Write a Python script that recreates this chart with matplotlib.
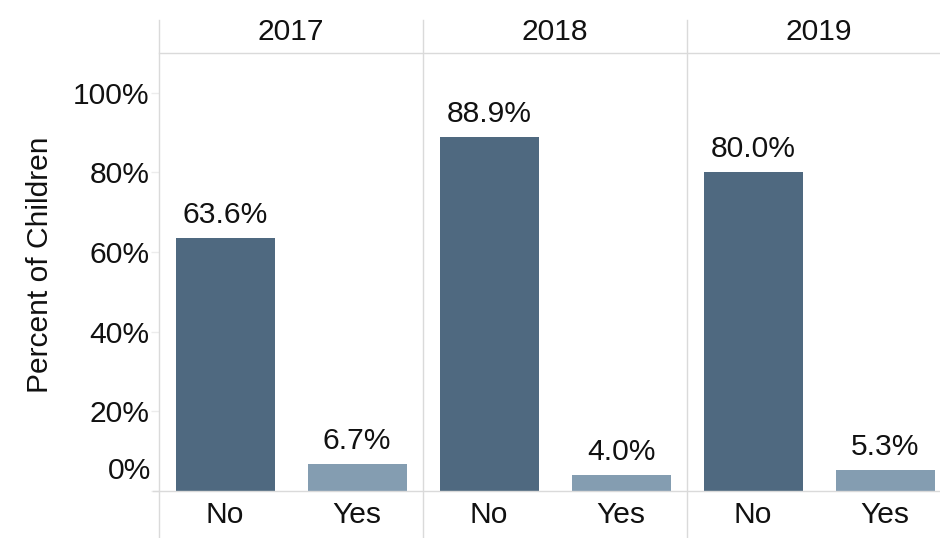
import matplotlib
matplotlib.use("Agg")
import matplotlib.pyplot as plt
from matplotlib.lines import Line2D

plt.rcParams['font.family'] = ['Liberation Sans', 'DejaVu Sans']

# ===============================
# Data
# ===============================

years = ["2017", "2018", "2019"]
answers = ["No", "Yes"]
pct_no = [63.6, 88.9, 80.0]
pct_yes = [6.7, 4.0, 5.3]
y_ticks = [0, 20, 40, 60, 80, 100]

# ===============================
# Style
# ===============================

W, H = 940, 538
COLOR_NO = "#4f6980"
COLOR_YES = "#849db1"
LINE = "#dadada"
TEXT = "#111111"
FS = 21.6

panel_left = 159
panel_w = 264
plot_top = 53
plot_bottom = 491


def fx(px):
    return px / W


def fy(py):
    return 1 - py / H


fig = plt.figure(figsize=(W / 100, H / 100), dpi=100)

for i, year in enumerate(years):
    x0 = panel_left + i * panel_w
    ax = fig.add_axes([fx(x0), fy(plot_bottom), fx(panel_w),
                       fy(plot_top) - fy(plot_bottom)])
    vals = [pct_no[i], pct_yes[i]]
    bars = ax.bar(range(len(answers)), vals, width=0.75,
                  color=[COLOR_NO, COLOR_YES])
    for b, v in zip(bars, vals):
        ax.annotate(f"{v:.1f}%", xy=(b.get_x() + b.get_width() / 2, v),
                    xytext=(0, 9), textcoords="offset pixels",
                    ha="center", va="bottom", fontsize=FS, color=TEXT)

    ax.set_xlim(-0.5, 1.5)
    ax.set_ylim(0, 110)
    ax.set_xticks(range(len(answers)))
    ax.set_xticklabels(answers, fontsize=FS, color=TEXT)
    ax.tick_params(axis="x", length=0, pad=7)
    for s in ax.spines.values():
        s.set_visible(False)

    if i == 0:
        ax.set_yticks(y_ticks)
        ax.set_yticklabels(["" if t == 0 else f"{t}%" for t in y_ticks],
                           fontsize=FS, color=TEXT)
        ax.tick_params(axis="y", length=6, width=1, color="#ececec", pad=1)
        # zero label sits above the baseline
        ax.annotate("0%", xy=(0, 0), xycoords=("axes fraction", "data"),
                    xytext=(-8, 20), textcoords="offset pixels",
                    ha="right", va="center", fontsize=FS, color=TEXT)
    else:
        ax.set_yticks([])

    # year header
    fig.text(fx(x0 + panel_w / 2), fy(32), year, ha="center", va="center",
             fontsize=FS, color=TEXT)

# divider lines between panels
for i in range(len(years)):
    x = fx(panel_left + i * panel_w)
    fig.add_artist(Line2D([x, x], [fy(20), 0], color=LINE, lw=1))

# header rule and baseline
fig.add_artist(Line2D([fx(panel_left), 1], [fy(plot_top), fy(plot_top)],
                      color=LINE, lw=1))
fig.add_artist(Line2D([fx(153), 1], [fy(plot_bottom), fy(plot_bottom)],
                      color=LINE, lw=1))

fig.text(fx(40), fy(265), "Percent of Children", rotation=90,
         ha="center", va="center", fontsize=FS, color=TEXT)

fig.savefig("out.png", dpi=100)
